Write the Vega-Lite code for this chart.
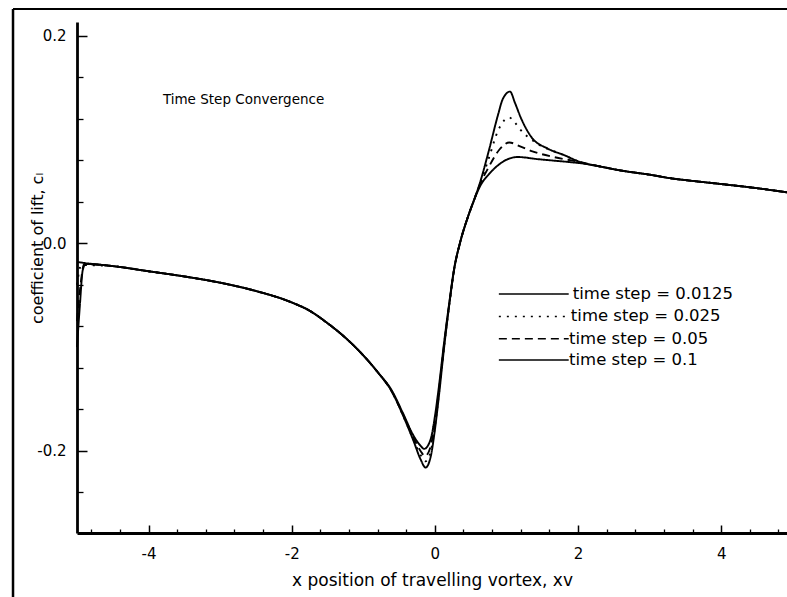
{
  "$schema": "https://vega.github.io/schema/vega-lite/v6.json",
  "width": 710,
  "height": 511,
  "autosize": "none",
  "padding": {"left": 77, "top": 22, "right": 0, "bottom": 64},
  "background": "white",
  "config": {"view": {"stroke": null}, "font": "DejaVu Sans"},
  "resolve": {"axis": {"x": "independent", "y": "independent"}},
  "layer": [
    {
      "data": {"values": [{"x": -5.894, "y": -0.36, "y2": 0.2255}]},
      "mark": {"type": "rule", "color": "black", "strokeWidth": 2.5},
      "encoding": {
        "x": {"field": "x", "type": "quantitative", "scale": {"domain": [-5, 4.92], "nice": false, "zero": false}, "axis": null},
        "y": {"field": "y", "type": "quantitative", "scale": {"domain": [-0.279, 0.213], "nice": false, "zero": false}, "axis": null},
        "y2": {"field": "y2"}
      }
    },
    {
      "data": {"values": [{"x": -5.894, "x2": 5.3, "y": 0.2255}]},
      "mark": {"type": "rule", "color": "black", "strokeWidth": 2},
      "encoding": {
        "x": {"field": "x", "type": "quantitative", "scale": {"domain": [-5, 4.92], "nice": false, "zero": false}, "axis": null},
        "x2": {"field": "x2"},
        "y": {"field": "y", "type": "quantitative", "scale": {"domain": [-0.279, 0.213], "nice": false, "zero": false}, "axis": null}
      }
    },
    {
      "data": {"values": [
        {"s": "0.0125", "x": -5.0, "y": -0.018}, {"s": "0.0125", "x": -4.9, "y": -0.019}, {"s": "0.0125", "x": -4.5, "y": -0.022}, {"s": "0.0125", "x": -4.0, "y": -0.027}, {"s": "0.0125", "x": -3.5, "y": -0.032}, {"s": "0.0125", "x": -3.0, "y": -0.038}, {"s": "0.0125", "x": -2.5, "y": -0.046}, {"s": "0.0125", "x": -2.0, "y": -0.057}, {"s": "0.0125", "x": -1.75, "y": -0.065}, {"s": "0.0125", "x": -1.5, "y": -0.077}, {"s": "0.0125", "x": -1.25, "y": -0.091}, {"s": "0.0125", "x": -1.0, "y": -0.108}, {"s": "0.0125", "x": -0.8, "y": -0.124}, {"s": "0.0125", "x": -0.6, "y": -0.143}, {"s": "0.0125", "x": -0.45, "y": -0.165}, {"s": "0.0125", "x": -0.3, "y": -0.19}, {"s": "0.0125", "x": -0.2, "y": -0.208}, {"s": "0.0125", "x": -0.13, "y": -0.216}, {"s": "0.0125", "x": -0.06, "y": -0.206}, {"s": "0.0125", "x": 0.0, "y": -0.18}, {"s": "0.0125", "x": 0.06, "y": -0.145}, {"s": "0.0125", "x": 0.13, "y": -0.1}, {"s": "0.0125", "x": 0.2, "y": -0.06}, {"s": "0.0125", "x": 0.27, "y": -0.025}, {"s": "0.0125", "x": 0.35, "y": 0.0}, {"s": "0.0125", "x": 0.46, "y": 0.025}, {"s": "0.0125", "x": 0.55, "y": 0.042}, {"s": "0.0125", "x": 0.62, "y": 0.056}, {"s": "0.0125", "x": 0.75, "y": 0.088}, {"s": "0.0125", "x": 0.88, "y": 0.123}, {"s": "0.0125", "x": 0.95, "y": 0.139}, {"s": "0.0125", "x": 1.05, "y": 0.146}, {"s": "0.0125", "x": 1.12, "y": 0.135}, {"s": "0.0125", "x": 1.2, "y": 0.121}, {"s": "0.0125", "x": 1.34, "y": 0.103}, {"s": "0.0125", "x": 1.58, "y": 0.091}, {"s": "0.0125", "x": 1.8, "y": 0.085}, {"s": "0.0125", "x": 2.04, "y": 0.078}, {"s": "0.0125", "x": 2.3, "y": 0.074}, {"s": "0.0125", "x": 2.6, "y": 0.07}, {"s": "0.0125", "x": 3.0, "y": 0.066}, {"s": "0.0125", "x": 3.3, "y": 0.0625}, {"s": "0.0125", "x": 3.6, "y": 0.06}, {"s": "0.0125", "x": 4.0, "y": 0.057}, {"s": "0.0125", "x": 4.5, "y": 0.053}, {"s": "0.0125", "x": 4.92, "y": 0.049},

        {"s": "0.025", "x": -5.0, "y": -0.04}, {"s": "0.025", "x": -4.94, "y": -0.021}, {"s": "0.025", "x": -4.5, "y": -0.022}, {"s": "0.025", "x": -4.0, "y": -0.027}, {"s": "0.025", "x": -3.5, "y": -0.032}, {"s": "0.025", "x": -3.0, "y": -0.038}, {"s": "0.025", "x": -2.5, "y": -0.046}, {"s": "0.025", "x": -2.0, "y": -0.057}, {"s": "0.025", "x": -1.75, "y": -0.065}, {"s": "0.025", "x": -1.5, "y": -0.077}, {"s": "0.025", "x": -1.25, "y": -0.091}, {"s": "0.025", "x": -1.0, "y": -0.108}, {"s": "0.025", "x": -0.8, "y": -0.124}, {"s": "0.025", "x": -0.6, "y": -0.143}, {"s": "0.025", "x": -0.45, "y": -0.165}, {"s": "0.025", "x": -0.3, "y": -0.189}, {"s": "0.025", "x": -0.2, "y": -0.204}, {"s": "0.025", "x": -0.13, "y": -0.21}, {"s": "0.025", "x": -0.06, "y": -0.201}, {"s": "0.025", "x": 0.0, "y": -0.177}, {"s": "0.025", "x": 0.06, "y": -0.143}, {"s": "0.025", "x": 0.13, "y": -0.099}, {"s": "0.025", "x": 0.2, "y": -0.06}, {"s": "0.025", "x": 0.27, "y": -0.025}, {"s": "0.025", "x": 0.35, "y": 0.0}, {"s": "0.025", "x": 0.46, "y": 0.025}, {"s": "0.025", "x": 0.55, "y": 0.042}, {"s": "0.025", "x": 0.62, "y": 0.055}, {"s": "0.025", "x": 0.75, "y": 0.081}, {"s": "0.025", "x": 0.88, "y": 0.108}, {"s": "0.025", "x": 0.98, "y": 0.119}, {"s": "0.025", "x": 1.04, "y": 0.121}, {"s": "0.025", "x": 1.12, "y": 0.116}, {"s": "0.025", "x": 1.2, "y": 0.109}, {"s": "0.025", "x": 1.43, "y": 0.096}, {"s": "0.025", "x": 1.76, "y": 0.086}, {"s": "0.025", "x": 2.04, "y": 0.078}, {"s": "0.025", "x": 2.3, "y": 0.074}, {"s": "0.025", "x": 2.6, "y": 0.07}, {"s": "0.025", "x": 3.0, "y": 0.066}, {"s": "0.025", "x": 3.3, "y": 0.0625}, {"s": "0.025", "x": 3.6, "y": 0.06}, {"s": "0.025", "x": 4.0, "y": 0.057}, {"s": "0.025", "x": 4.5, "y": 0.053}, {"s": "0.025", "x": 4.92, "y": 0.049},

        {"s": "0.05", "x": -5.0, "y": -0.075}, {"s": "0.05", "x": -4.95, "y": -0.04}, {"s": "0.05", "x": -4.9, "y": -0.02}, {"s": "0.05", "x": -4.5, "y": -0.022}, {"s": "0.05", "x": -4.0, "y": -0.027}, {"s": "0.05", "x": -3.5, "y": -0.032}, {"s": "0.05", "x": -3.0, "y": -0.038}, {"s": "0.05", "x": -2.5, "y": -0.046}, {"s": "0.05", "x": -2.0, "y": -0.057}, {"s": "0.05", "x": -1.75, "y": -0.065}, {"s": "0.05", "x": -1.5, "y": -0.077}, {"s": "0.05", "x": -1.25, "y": -0.091}, {"s": "0.05", "x": -1.0, "y": -0.108}, {"s": "0.05", "x": -0.8, "y": -0.124}, {"s": "0.05", "x": -0.6, "y": -0.143}, {"s": "0.05", "x": -0.45, "y": -0.164}, {"s": "0.05", "x": -0.3, "y": -0.187}, {"s": "0.05", "x": -0.2, "y": -0.2}, {"s": "0.05", "x": -0.14, "y": -0.205}, {"s": "0.05", "x": -0.06, "y": -0.196}, {"s": "0.05", "x": 0.0, "y": -0.172}, {"s": "0.05", "x": 0.06, "y": -0.14}, {"s": "0.05", "x": 0.13, "y": -0.097}, {"s": "0.05", "x": 0.2, "y": -0.059}, {"s": "0.05", "x": 0.27, "y": -0.025}, {"s": "0.05", "x": 0.35, "y": 0.0}, {"s": "0.05", "x": 0.46, "y": 0.025}, {"s": "0.05", "x": 0.55, "y": 0.042}, {"s": "0.05", "x": 0.62, "y": 0.055}, {"s": "0.05", "x": 0.75, "y": 0.073}, {"s": "0.05", "x": 0.9, "y": 0.09}, {"s": "0.05", "x": 1.04, "y": 0.097}, {"s": "0.05", "x": 1.2, "y": 0.093}, {"s": "0.05", "x": 1.34, "y": 0.089}, {"s": "0.05", "x": 1.66, "y": 0.083}, {"s": "0.05", "x": 2.04, "y": 0.078}, {"s": "0.05", "x": 2.3, "y": 0.074}, {"s": "0.05", "x": 2.6, "y": 0.07}, {"s": "0.05", "x": 3.0, "y": 0.066}, {"s": "0.05", "x": 3.3, "y": 0.0625}, {"s": "0.05", "x": 3.6, "y": 0.06}, {"s": "0.05", "x": 4.0, "y": 0.057}, {"s": "0.05", "x": 4.5, "y": 0.053}, {"s": "0.05", "x": 4.92, "y": 0.049},

        {"s": "0.1", "x": -5.0, "y": -0.1}, {"s": "0.1", "x": -4.96, "y": -0.06}, {"s": "0.1", "x": -4.92, "y": -0.026}, {"s": "0.1", "x": -4.88, "y": -0.02}, {"s": "0.1", "x": -4.5, "y": -0.022}, {"s": "0.1", "x": -4.0, "y": -0.027}, {"s": "0.1", "x": -3.5, "y": -0.032}, {"s": "0.1", "x": -3.0, "y": -0.038}, {"s": "0.1", "x": -2.5, "y": -0.046}, {"s": "0.1", "x": -2.0, "y": -0.057}, {"s": "0.1", "x": -1.75, "y": -0.065}, {"s": "0.1", "x": -1.5, "y": -0.077}, {"s": "0.1", "x": -1.25, "y": -0.091}, {"s": "0.1", "x": -1.0, "y": -0.108}, {"s": "0.1", "x": -0.8, "y": -0.124}, {"s": "0.1", "x": -0.6, "y": -0.142}, {"s": "0.1", "x": -0.45, "y": -0.163}, {"s": "0.1", "x": -0.3, "y": -0.185}, {"s": "0.1", "x": -0.2, "y": -0.195}, {"s": "0.1", "x": -0.15, "y": -0.198}, {"s": "0.1", "x": -0.06, "y": -0.189}, {"s": "0.1", "x": 0.0, "y": -0.167}, {"s": "0.1", "x": 0.06, "y": -0.136}, {"s": "0.1", "x": 0.13, "y": -0.095}, {"s": "0.1", "x": 0.2, "y": -0.058}, {"s": "0.1", "x": 0.27, "y": -0.024}, {"s": "0.1", "x": 0.35, "y": 0.0}, {"s": "0.1", "x": 0.46, "y": 0.025}, {"s": "0.1", "x": 0.55, "y": 0.042}, {"s": "0.1", "x": 0.64, "y": 0.056}, {"s": "0.1", "x": 0.75, "y": 0.066}, {"s": "0.1", "x": 0.9, "y": 0.076}, {"s": "0.1", "x": 1.02, "y": 0.081}, {"s": "0.1", "x": 1.16, "y": 0.083}, {"s": "0.1", "x": 1.43, "y": 0.081}, {"s": "0.1", "x": 1.9, "y": 0.078}, {"s": "0.1", "x": 2.04, "y": 0.077}, {"s": "0.1", "x": 2.3, "y": 0.074}, {"s": "0.1", "x": 2.6, "y": 0.07}, {"s": "0.1", "x": 3.0, "y": 0.066}, {"s": "0.1", "x": 3.3, "y": 0.0625}, {"s": "0.1", "x": 3.6, "y": 0.06}, {"s": "0.1", "x": 4.0, "y": 0.057}, {"s": "0.1", "x": 4.5, "y": 0.053}, {"s": "0.1", "x": 4.92, "y": 0.049}
      ]},
      "mark": {"type": "line", "color": "black", "strokeWidth": 1.9, "interpolate": "monotone"},
      "encoding": {
        "x": {"field": "x", "type": "quantitative",
          "scale": {"domain": [-5, 4.92], "nice": false, "zero": false},
          "axis": {"orient": "bottom", "values": [-4, -2, 0, 2, 4], "labelExpr": "replace(format(datum.value, 'd'), '\u2212', '-')",
            "domainColor": "black", "domainWidth": 2.8, "tickColor": "black", "tickWidth": 1.5, "tickSize": -8,
            "labelFontSize": 15, "labelColor": "black", "labelPadding": 21, "labelFont": "DejaVu Sans",
            "grid": false, "title": "x position of travelling vortex, xv", "titleFontSize": 17, "titleFontWeight": "normal",
            "titleColor": "black", "titlePadding": 11, "titleFont": "DejaVu Sans"}},
        "y": {"field": "y", "type": "quantitative",
          "scale": {"domain": [-0.279, 0.213], "nice": false, "zero": false},
          "axis": {"orient": "left", "values": [-0.2, 0, 0.2], "labelExpr": "replace(format(datum.value, '.1f'), '\u2212', '-')",
            "domainColor": "black", "domainWidth": 2.8, "tickColor": "black", "tickWidth": 1.5, "tickSize": -10,
            "labelFontSize": 15, "labelColor": "black", "labelPadding": 21, "labelFont": "DejaVu Sans",
            "grid": false, "title": "coefficient of lift, c\u2097", "titleFontSize": 16, "titleFontWeight": "normal",
            "titleColor": "black", "titleFont": "DejaVu Sans", "titleAngle": -90, "titleX": -40, "titleY": 226, "titleAlign": "center", "titleBaseline": "middle"}},
        "strokeDash": {"field": "s", "type": "nominal",
          "scale": {"domain": ["0.0125", "0.025", "0.05", "0.1"], "range": [[1, 0], [2, 6], [8, 5], [1, 0]]},
          "legend": null}
      }
    },
    {
      "data": {"values": [
        {"s": "0.0125", "label": "time step = 0.0125", "x": 0.894, "x2": 1.87, "xt": 1.927, "y": -0.049},
        {"s": "0.025", "label": "time step = 0.025", "x": 0.894, "x2": 1.87, "xt": 1.9, "y": -0.0705},
        {"s": "0.05", "label": "time step = 0.05", "x": 0.894, "x2": 1.87, "xt": 1.875, "y": -0.092},
        {"s": "0.1", "label": "time step = 0.1", "x": 0.894, "x2": 1.87, "xt": 1.875, "y": -0.1125}
      ]},
      "layer": [
        {
          "mark": {"type": "rule", "color": "black", "strokeWidth": 1.5},
          "encoding": {
            "x": {"field": "x", "type": "quantitative", "scale": {"domain": [-5, 4.92], "nice": false, "zero": false}, "axis": null},
            "x2": {"field": "x2"},
            "y": {"field": "y", "type": "quantitative", "scale": {"domain": [-0.279, 0.213], "nice": false, "zero": false}, "axis": null},
            "strokeDash": {"field": "s", "type": "nominal", "scale": {"domain": ["0.0125", "0.025", "0.05", "0.1"], "range": [[1, 0], [2, 6], [8, 5], [1, 0]]}, "legend": null}
          }
        },
        {
          "mark": {"type": "text", "align": "left", "baseline": "middle", "fontSize": 16.5, "font": "DejaVu Sans", "color": "black"},
          "encoding": {
            "x": {"field": "xt", "type": "quantitative", "scale": {"domain": [-5, 4.92], "nice": false, "zero": false}, "axis": null},
            "y": {"field": "y", "type": "quantitative", "scale": {"domain": [-0.279, 0.213], "nice": false, "zero": false}, "axis": null},
            "text": {"field": "label"}
          }
        }
      ]
    },
    {
      "data": {"values": [{"label": "Time Step Convergence", "x": -3.8, "y": 0.138}]},
      "mark": {"type": "text", "align": "left", "baseline": "middle", "fontSize": 13.5, "font": "DejaVu Sans", "color": "black"},
      "encoding": {
        "x": {"field": "x", "type": "quantitative", "scale": {"domain": [-5, 4.92], "nice": false, "zero": false},
          "axis": {"orient": "bottom", "values": [-4.8, -4.4, -3.6, -3.2, -2.8, -2.4, -1.6, -1.2, -0.8, -0.4, 0.4, 0.8, 1.2, 1.6, 2.4, 2.8, 3.2, 3.6, 4.4, 4.8],
            "labels": false, "domain": false, "grid": false, "tickColor": "black", "tickWidth": 1.3, "tickSize": -4, "title": null}},
        "y": {"field": "y", "type": "quantitative", "scale": {"domain": [-0.279, 0.213], "nice": false, "zero": false},
          "axis": {"orient": "left", "values": [-0.24, -0.16, -0.12, -0.08, -0.04, 0.04, 0.08, 0.12, 0.16],
            "labels": false, "domain": false, "grid": false, "tickColor": "black", "tickWidth": 1.3, "tickSize": -6, "title": null}},
        "text": {"field": "label"}
      }
    }
  ]
}
